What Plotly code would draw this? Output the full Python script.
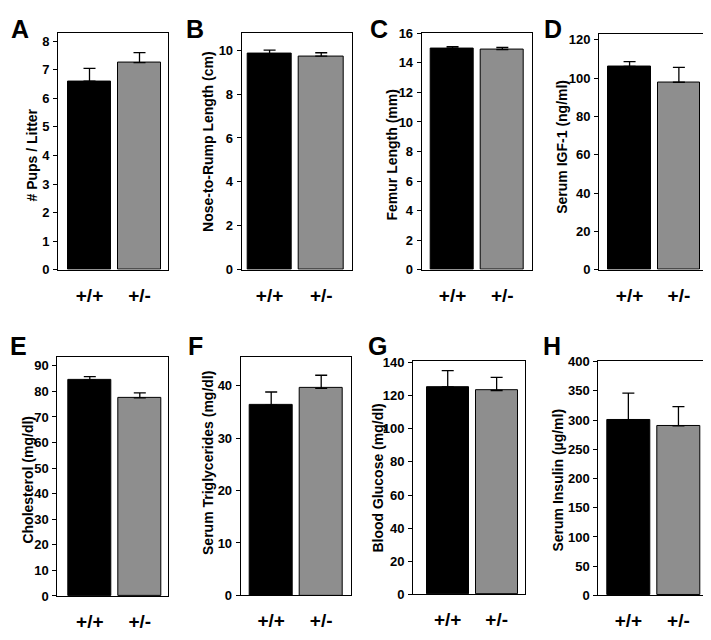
import plotly.graph_objects as go

# ---- data ----
genotypes = ["+/+", "+/-"]
panel_letters = ["A", "B", "C", "D", "E", "F", "G", "H"]
y_titles = ["# Pups / Litter", "Nose-to-Rump Length (cm)", "Femur Length (mm)",
            "Serum IGF-1 (ng/ml)", "Cholesterol (mg/dl)", "Serum Triglycerides (mg/dl)",
            "Blood Glucose (mg/dl)", "Serum Insulin (\u00b5g/ml)"]

pups_mean = [6.6, 7.25]
pups_err = [0.45, 0.35]
length_mean = [9.84, 9.73]
length_err = [0.16, 0.15]
femur_mean = [15.0, 14.9]
femur_err = [0.1, 0.14]
igf_mean = [106.0, 97.8]
igf_err = [2.6, 7.7]
chol_mean = [84.4, 77.5]
chol_err = [1.4, 1.9]
trig_mean = [36.3, 39.5]
trig_err = [2.5, 2.5]
gluc_mean = [125.2, 123.1]
gluc_err = [9.9, 7.9]
ins_mean = [300.0, 290.0]
ins_err = [46.0, 33.0]

means = [pups_mean, length_mean, femur_mean, igf_mean, chol_mean, trig_mean, gluc_mean, ins_mean]
errs = [pups_err, length_err, femur_err, igf_err, chol_err, trig_err, gluc_err, ins_err]

# ---- layout geometry (page pixels; page body has an 8px margin) ----
OFF = 8
W, H = 703, 624
boxes = [  # x0, x1, ytop, ybottom
    (58, 168, 26, 269), (241.7, 351.7, 26, 269), (421.7, 531.7, 26, 269), (599, 706, 27, 269),
    (57.3, 168.3, 358.3, 603.3), (240.7, 350.7, 358.3, 602.7), (413, 525, 362.7, 601.7), (598.3, 706, 362.5, 602.7),
]
y_ranges = [8.3, 10.8, 16.05, 123.2, 93.5, 45.5, 140.8, 401]
y_dticks = [1, 2, 2, 20, 10, 10, 20, 50]
x_ranges = [(-0.63, 1.57), (-0.54, 1.59), (-0.62, 1.59), (-0.62, 1.55),
            (-0.65, 1.57), (-0.61, 1.59), (-0.71, 1.58), (-0.6, 1.55)]
title_pos = [(32, 152), (208, 138), (392, 152), (562, 143),
             (28, 484), (208, 467), (378, 483), (558, 485)]
letter_pos = [(9, 22), (184, 22), (368, 22), (542, 22),
              (3, 347), (186, 347), (366, 347), (541, 347)]

FONT = "Arial, Liberation Sans, sans-serif"
bar_colors = ["#000000", "#8e8e8e"]

def px(x):
    return (x - OFF) / W

def py(y):
    return 1 - (y - OFF) / H

fig = go.Figure()
layout = dict(width=W, height=H, margin=dict(l=0, r=0, t=0, b=0),
              paper_bgcolor="white", plot_bgcolor="white", showlegend=False,
              font=dict(family=FONT, color="black"), annotations=[], bargap=0)

for i in range(8):
    n = "" if i == 0 else str(i + 1)
    x0, x1, yt, yb = boxes[i]
    fig.add_trace(go.Bar(
        x=genotypes, y=means[i], xaxis="x" + n, yaxis="y" + n, width=0.86,
        marker=dict(color=bar_colors, line=dict(color="black", width=1)),
        error_y=dict(type="data", array=errs[i], arrayminus=[0, 0], symmetric=False,
                     color="black", thickness=1.3, width=6),
    ))
    layout["xaxis" + n] = dict(domain=[px(x0), px(x1)], anchor="y" + n, range=list(x_ranges[i]),
                               showline=True, linecolor="black", linewidth=1, mirror=True,
                               ticks="", showgrid=False, zeroline=False, ticklabelstandoff=8,
                               tickfont=dict(family=FONT, size=19, color="black", weight="bold"),
                               fixedrange=True)
    layout["yaxis" + n] = dict(domain=[py(yb), py(yt)], anchor="x" + n,
                               range=[0, y_ranges[i]], dtick=y_dticks[i], tick0=0,
                               showline=True, linecolor="black", linewidth=1, mirror=True,
                               ticks="outside", ticklen=4, tickcolor="black", tickwidth=1,
                               showgrid=False, zeroline=False, ticklabelstandoff=1,
                               tickfont=dict(family=FONT, size=13, color="black", weight="bold"),
                               fixedrange=True)
    tx, ty = title_pos[i]
    layout["annotations"].append(dict(
        text=y_titles[i], x=px(tx), y=py(ty), xref="paper", yref="paper",
        xanchor="center", yanchor="middle", textangle=-90, showarrow=False,
        font=dict(family=FONT, size=14, color="black", weight="bold")))
    lx, ly = letter_pos[i]
    layout["annotations"].append(dict(
        text=panel_letters[i], x=max(px(lx), 0), y=py(ly), xref="paper", yref="paper",
        xanchor="left", yanchor="middle", showarrow=False,
        font=dict(family=FONT, size=25, color="black", weight="bold")))

fig.update_layout(**layout)
fig.write_html("out.html")
